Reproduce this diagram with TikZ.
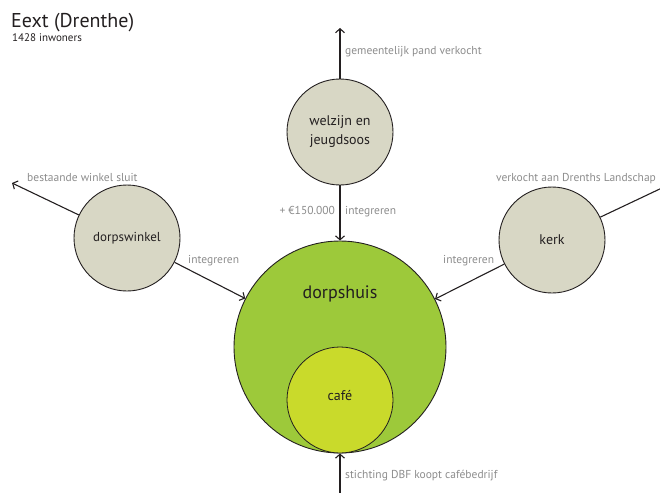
\documentclass[tikz,border=0pt]{standalone}
\usepackage{fontspec}
\setmainfont{PT Sans}
\usetikzlibrary{arrows.meta}
\definecolor{beige}{HTML}{D8D7C5}
\definecolor{dgreen}{HTML}{9DC93A}
\definecolor{lgreen}{HTML}{C9DA2B}
\definecolor{lbl}{HTML}{8C8C8C}
\definecolor{ink}{HTML}{231F20}
\tikzset{
  sub/.style={circle,draw=ink,line width=0.9pt,fill=beige,minimum size=106pt,inner sep=0pt,align=center,font=\fontsize{14}{19}\selectfont,text=ink},
  arr/.style={draw=ink,line width=1.1pt,-{Straight Barb[length=4pt,width=9pt,line width=1.1pt]}},
  plain/.style={draw=ink,line width=1.1pt},
  lab/.style={font=\fontsize{11.5}{13}\selectfont,text=lbl,inner sep=0pt}
}
\begin{document}
\begin{tikzpicture}[x=1pt,y=-1pt]
\useasboundingbox (0,0) rectangle (660,492);
\node[anchor=base west,inner sep=0pt,font=\fontsize{20}{22}\selectfont,text=ink] (title) at (11,28) {Eext (Drenthe)};
\node[anchor=base west,inner sep=0pt,font=\fontsize{11}{12}\selectfont,text=ink] (inw) at (12,42) {1428 inwoners};

\node[circle,draw=ink,line width=0.9pt,fill=dgreen,minimum size=212pt,inner sep=0pt] (dh) at (340,347) {};
\node[circle,draw=ink,line width=0.8pt,fill=lgreen,minimum size=106pt,inner sep=0pt] (cafe) at (340,400) {};
\node[font=\fontsize{18}{20}\selectfont,text=ink] (dhl) at (340,294) {dorpshuis};
\node[font=\fontsize{14}{15}\selectfont,text=ink] (cafel) at (340,396) {café};

\node[sub] (wj) at (340,132) {welzijn en\\jeugdsoos};
\node[sub,font=\fontsize{13}{15}\selectfont] (dw) at (127,238) {dorpswinkel};
\node[sub] (kerk) at (552,240) {kerk};

\coordinate (top) at (340,28);
\coordinate (ul) at (12,183);
\coordinate (ur) at (664,187);
\coordinate (bot) at (340,494);

\draw[arr] (wj) -- (top);
\draw[arr] (wj) -- (dh);
\draw[arr] (dw) -- (ul);
\draw[arr] (dw) -- (dh);
\draw[plain] (kerk) -- (ur);
\draw[arr] (kerk) -- (dh);
\draw[arr] (bot) -- (dh.south);

\node[lab,anchor=base west] (l1) at (345,55) {gemeentelijk pand verkocht};
\node[lab,anchor=base east] (l2) at (335,214) {+ €150.000};
\node[lab,anchor=base west] (l3) at (345,214) {integreren};
\node[lab,anchor=base west] (l4) at (27,181) {bestaande winkel sluit};
\node[lab,anchor=base west] (l5) at (188,263) {integreren};
\node[lab,anchor=base west] (l6) at (496,181) {verkocht aan Drenths Landschap};
\node[lab,anchor=base west] (l7) at (443,263) {integreren};
\node[lab,anchor=base west] (l8) at (345,478) {stichting DBF koopt cafébedrijf};
\end{tikzpicture}
\end{document}
